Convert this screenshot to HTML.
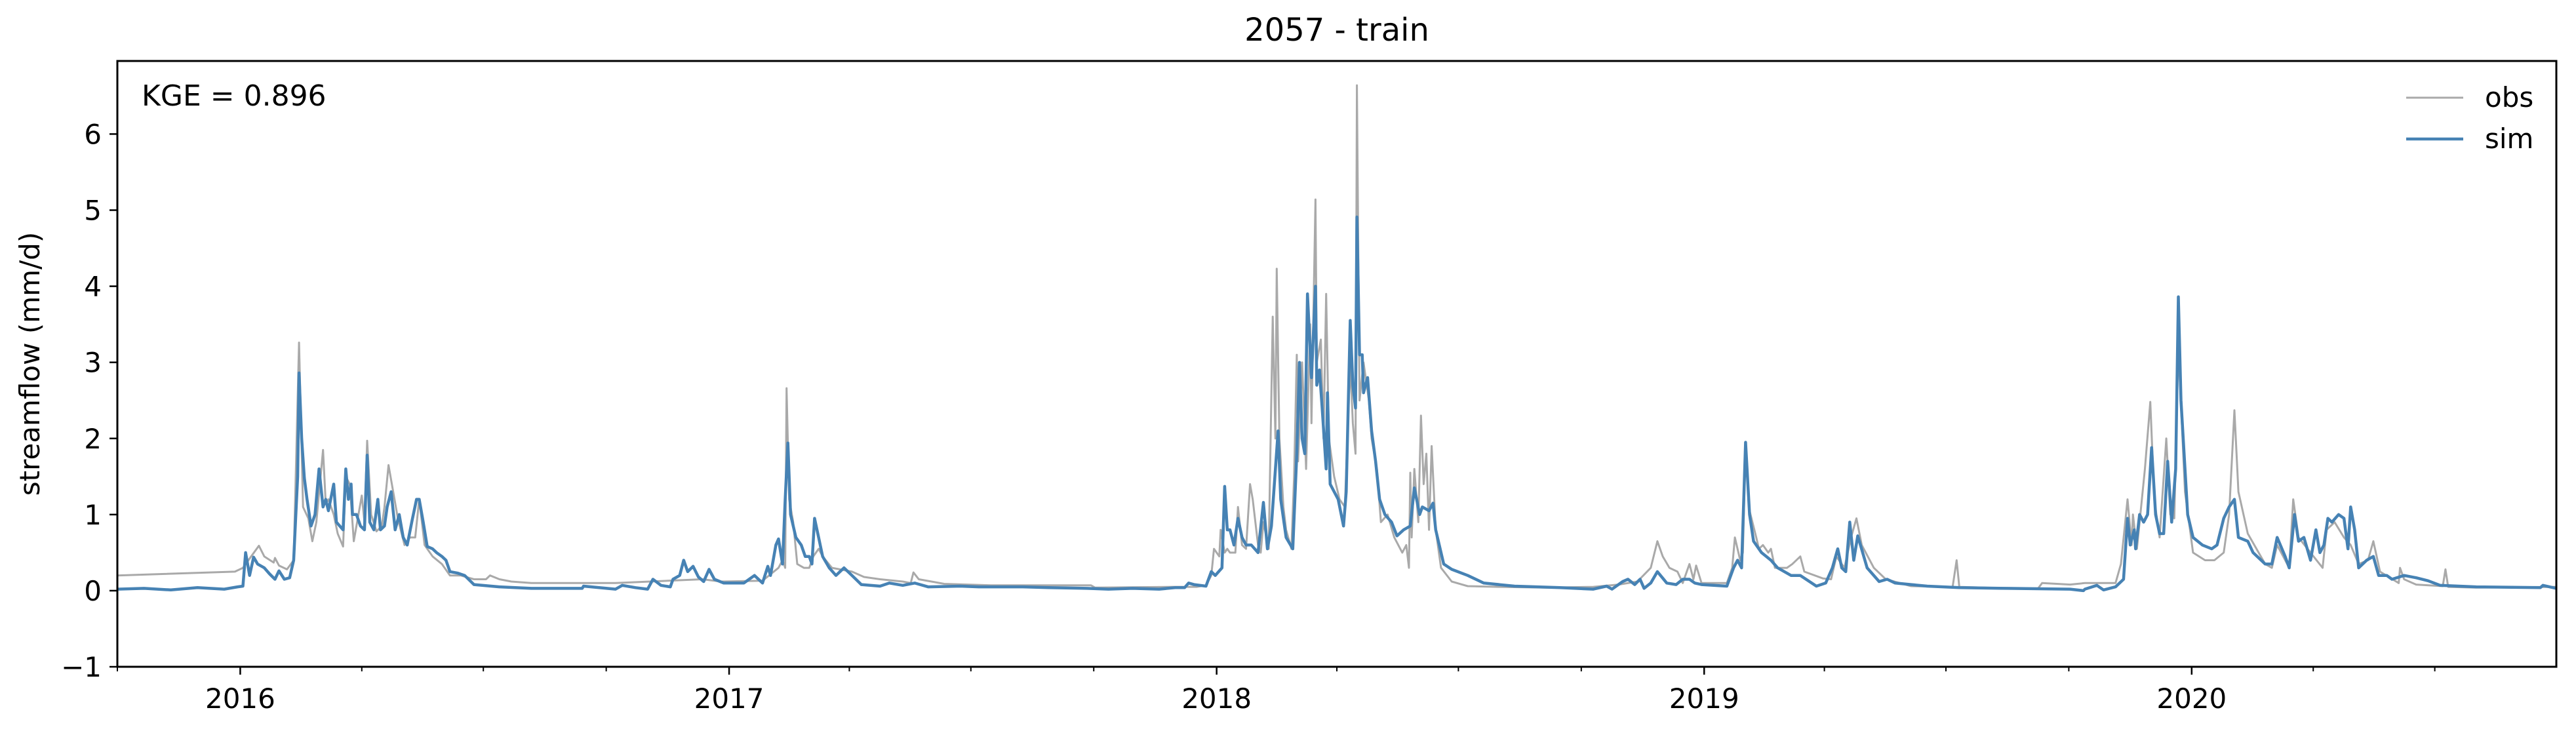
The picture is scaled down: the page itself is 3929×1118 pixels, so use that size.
<!DOCTYPE html>
<html><head><meta charset="utf-8"><style>
html,body{margin:0;padding:0;background:#fff;}
svg{display:block;font-family:"DejaVu Sans","Liberation Sans",sans-serif;}
</style></head><body>
<svg id="chart" width="3929" height="1118" viewBox="0 0 3929 1118" xmlns="http://www.w3.org/2000/svg">
<rect x="0" y="0" width="3929" height="1118" fill="#fff"/>
<text x="2039" y="62" font-size="48" text-anchor="middle">2057 - train</text>
<text x="0" y="0" font-size="42" text-anchor="middle" transform="translate(60,555) rotate(-90)">streamflow (mm/d)</text>
<g id="plot"></g>
<g id="axes"></g>
<text x="216" y="161" font-size="44">KGE = 0.896</text>
<g>
<line x1="3670" y1="149" x2="3757" y2="149" stroke="#a9a9a9" stroke-width="3"/>
<text x="3790" y="163" font-size="42">obs</text>
<line x1="3670" y1="212" x2="3757" y2="212" stroke="#4682b4" stroke-width="4.5"/>
<text x="3790" y="226" font-size="42">sim</text>
</g>
</svg>
<script>
// day index from 2015-10-01
const obsDays=[0,88,94,106,110,117,118,121,127,132,136,139,143,146,149,154,156,158,162,165,169,171,174,177,180,183,185,187,190,194,198,200,203,206,210,215,219,223,226,230,236,243,249,257,267,276,279,286,295,310,333,373,
438,452,483,495,498,500,501,503,506,509,514,518,521,525,528,535,550,559,571,588,594,596,600,619,654,702,729,732,
792,808,815,819,821,825,826,829,831,833,837,839,842,845,848,850,854,856,858,862,865,867,868,870,873,875,879,881,883,884,887,890,893,894,897,898,901,903,905,907,911,915,919,923,925,927,928,930,933,937,939,943,946,951,956,962,965,967,968,969,971,974,976,978,980,982,984,987,991,999,1011,1034,1070,
1105,1124,1138,1148,1153,1157,1162,1168,1172,1177,1180,1182,1186,1205,1209,1211,1215,1217,1219,1222,1227,1229,1232,1236,1238,1241,1250,1254,1260,1263,1277,1283,1287,1293,1298,1302,1306,1315,1324,1343,1374,1377,1379,1415,1438,1441,1462,
1473,1496,1500,1505,1508,1509,1512,1518,1522,1525,1529,1534,1537,1540,1543,1548,1554,1563,1570,1577,1581,1585,1588,1595,1608,1613,1617,1626,1629,1633,1642,1651,1654,1660,1667,1672,1678,1685,1689,1694,1708,1709,1712,1721,1741,1743,1745,1766,1826];
const obsVals=[0.2,0.25,0.3,0.59,0.45,0.37,0.43,0.33,0.28,0.4,3.26,1.1,0.95,0.65,0.9,1.85,1.15,1.2,1.0,0.75,0.58,1.5,1.4,0.65,0.95,1.25,0.9,1.97,1.0,0.78,0.85,1.1,1.65,1.35,0.95,0.6,0.7,0.7,1.2,0.6,0.45,0.35,0.2,0.2,0.15,0.15,0.2,0.15,0.12,0.1,0.1,0.1,
0.15,0.12,0.13,0.3,0.4,0.3,2.66,1.2,0.9,0.35,0.3,0.3,0.45,0.55,0.45,0.3,0.25,0.18,0.15,0.12,0.1,0.24,0.15,0.09,0.07,0.07,0.07,0.04,
0.05,0.05,0.07,0.2,0.55,0.45,0.8,0.5,0.55,0.5,0.5,1.1,0.6,0.55,1.4,1.2,0.6,0.5,0.9,0.55,3.6,2.0,4.23,2.0,1.1,0.8,0.55,1.5,3.1,1.7,3.0,1.6,3.5,2.2,5.14,3.0,3.3,2.0,3.9,2.0,1.5,1.2,1.1,3.0,2.2,1.8,6.64,2.5,3.0,2.5,2.0,1.6,0.9,1.0,0.7,0.5,0.6,0.3,1.55,0.7,1.6,0.9,2.3,1.4,1.8,0.8,1.9,0.8,0.3,0.12,0.06,0.05,0.04,
0.05,0.08,0.12,0.3,0.65,0.45,0.3,0.25,0.1,0.35,0.15,0.33,0.1,0.1,0.3,0.7,0.4,0.5,1.9,1.05,0.7,0.55,0.6,0.5,0.55,0.3,0.3,0.35,0.45,0.25,0.16,0.15,0.45,0.3,0.7,0.95,0.6,0.3,0.15,0.06,0.05,0.4,0.05,0.03,0.03,0.1,0.08,
0.1,0.1,0.35,1.2,0.6,1.0,0.55,1.6,2.48,1.2,0.7,2.0,1.0,0.95,3.2,1.3,0.5,0.4,0.4,0.5,1.0,2.37,1.3,0.75,0.35,0.3,0.6,0.3,1.2,0.7,0.5,0.3,0.8,0.9,0.7,0.6,0.35,0.4,0.65,0.25,0.1,0.3,0.15,0.08,0.06,0.28,0.05,0.04,0.05];
const simDays=[0,20,40,60,80,90,94,96,99,102,105,110,114,118,121,125,129,132,135,136,138,140,142,145,148,151,154,156,158,162,164,169,171,173,175,176,179,182,185,187,189,192,195,197,200,202,205,208,211,214,217,221,224,226,229,232,236,239,243,246,249,255,260,267,286,310,348,349,373,
378,388,397,401,407,414,416,421,424,427,431,435,439,443,447,454,469,477,483,487,489,493,495,498,500,502,504,508,512,515,518,520,522,525,528,533,538,544,550,557,571,578,588,597,607,631,645,678,697,726,742,
760,780,792,799,802,806,815,819,822,827,829,831,833,836,839,842,845,849,854,858,861,864,869,871,875,880,883,885,887,889,891,894,897,898,900,902,905,906,908,911,914,918,920,923,925,927,928,930,932,933,936,939,942,945,949,954,958,963,968,971,975,977,982,985,987,993,999,1011,1023,1046,1080,
1105,1115,1119,1127,1131,1136,1140,1143,1148,1153,1160,1167,1172,1177,1181,1186,1205,1210,1213,1216,1219,1222,1225,1231,1238,1243,1253,1260,1272,1279,1284,1288,1291,1294,1297,1300,1303,1310,1319,1325,1331,1355,1379,1415,1462,1472,
1473,1482,1487,1496,1502,1505,1507,1510,1511,1514,1517,1520,1523,1526,1529,1532,1535,1538,1541,1543,1545,1550,1554,1561,1568,1572,1577,1581,1585,1588,1595,1599,1608,1613,1617,1623,1626,1630,1633,1637,1642,1646,1649,1652,1655,1658,1663,1667,1670,1672,1675,1678,1684,1689,1693,1699,1703,1712,1721,1730,1739,1766,1814,1816,1826];
const simVals=[0.02,0.03,0.01,0.04,0.02,0.05,0.06,0.5,0.2,0.44,0.35,0.3,0.22,0.15,0.26,0.15,0.17,0.4,1.5,2.86,2.0,1.48,1.2,0.85,1.0,1.6,1.1,1.2,1.05,1.4,0.9,0.8,1.6,1.2,1.4,1.0,1.0,0.85,0.8,1.78,0.9,0.8,1.2,0.8,0.85,1.1,1.3,0.8,1.0,0.7,0.6,0.95,1.2,1.2,0.9,0.58,0.55,0.5,0.45,0.4,0.25,0.23,0.2,0.08,0.05,0.03,0.03,0.06,0.02,
0.07,0.04,0.02,0.15,0.07,0.05,0.15,0.2,0.4,0.25,0.32,0.18,0.12,0.28,0.15,0.1,0.1,0.2,0.1,0.32,0.2,0.6,0.68,0.35,1.2,1.94,1.0,0.7,0.6,0.45,0.45,0.35,0.95,0.7,0.45,0.3,0.2,0.3,0.2,0.08,0.06,0.1,0.07,0.1,0.05,0.06,0.05,0.05,0.04,0.03,0.02,
0.03,0.02,0.04,0.04,0.1,0.08,0.06,0.25,0.2,0.3,1.37,0.8,0.8,0.6,0.95,0.7,0.6,0.6,0.5,1.16,0.55,0.85,2.1,1.2,0.7,0.55,1.8,3.0,2.0,1.8,3.9,2.8,4.0,2.7,2.9,2.4,1.6,2.6,1.4,1.3,1.2,0.85,1.3,3.55,2.7,2.4,4.91,3.1,3.1,2.6,2.8,2.1,1.7,1.2,1.0,0.9,0.72,0.8,0.85,1.35,1.0,1.1,1.05,1.15,0.8,0.35,0.28,0.2,0.1,0.06,0.04,
0.02,0.06,0.02,0.12,0.15,0.08,0.15,0.03,0.1,0.25,0.1,0.08,0.15,0.15,0.1,0.08,0.06,0.3,0.4,0.3,1.95,1.0,0.65,0.5,0.4,0.3,0.2,0.2,0.06,0.1,0.3,0.55,0.3,0.25,0.9,0.4,0.72,0.3,0.12,0.15,0.1,0.06,0.04,0.03,0.02,0.0,
0.02,0.07,0.01,0.05,0.15,0.95,0.6,0.8,0.55,1.0,0.9,1.0,1.88,1.0,0.75,0.75,1.7,0.9,1.6,3.86,2.5,1.0,0.7,0.6,0.55,0.6,0.95,1.1,1.2,0.7,0.65,0.5,0.35,0.35,0.7,0.45,0.3,1.0,0.65,0.7,0.4,0.8,0.5,0.6,0.95,0.9,1.0,0.95,0.55,1.1,0.8,0.3,0.4,0.45,0.2,0.2,0.15,0.2,0.17,0.13,0.07,0.05,0.04,0.07,0.03];
const yTicks=[-1,0,1,2,3,4,5,6];
const yearTicks=[2016,2017,2018,2019,2020];

const X0=179,X1=3899,Y0=93,Y1=1017,DMAX=1826,YMIN=-1,YMAX=6.96;
const start=Date.UTC(2015,9,1);
function xs(d){return X0+(d/DMAX)*(X1-X0);}
function ys(v){return Y1-(v-YMIN)/(YMAX-YMIN)*(Y1-Y0);}
function dayOf(y,m){return Math.round((Date.UTC(y,m,1)-start)/86400000);}
const NS="http://www.w3.org/2000/svg";
const plot=document.getElementById('plot'),axes=document.getElementById('axes');
function series(days,vals){
  const pts=days.map((d,i)=>[d,vals[i]]).sort((a,b)=>a[0]-b[0]);
  return pts.map((p,i)=>(i?'L':'M')+xs(p[0]).toFixed(1)+','+ys(p[1]).toFixed(1)).join(' ');
}
const po=document.createElementNS(NS,'path');


po.setAttribute('d',series(obsDays,obsVals));po.setAttribute('fill','none');po.setAttribute('stroke','#a9a9a9');po.setAttribute('stroke-width','3');po.setAttribute('stroke-linejoin','round');
plot.appendChild(po);
const ps=document.createElementNS(NS,'path');


ps.setAttribute('d',series(simDays,simVals));ps.setAttribute('fill','none');ps.setAttribute('stroke','#4682b4');ps.setAttribute('stroke-width','4.5');ps.setAttribute('stroke-linejoin','round');
plot.appendChild(ps);

const frame=document.createElementNS(NS,'rect');


frame.setAttribute('x',X0);frame.setAttribute('y',Y0);frame.setAttribute('width',X1-X0);frame.setAttribute('height',Y1-Y0);
frame.setAttribute('fill','none');frame.setAttribute('stroke','#000');frame.setAttribute('stroke-width','3');
axes.appendChild(frame);

yTicks.forEach(v=>{
  const y=ys(v);
  const t=document.createElementNS(NS,'line');
  
  
  t.setAttribute('x1',X0-12);t.setAttribute('x2',X0);t.setAttribute('y1',y);t.setAttribute('y2',y);t.setAttribute('stroke','#000');t.setAttribute('stroke-width','2.5');
  axes.appendChild(t);
  const l=document.createElementNS(NS,'text');
  
  
  l.setAttribute('x',X0-24);l.setAttribute('y',y+15);l.setAttribute('font-size','42');l.setAttribute('text-anchor','end');
  l.textContent=v<0?'\u2212'+Math.abs(v):String(v);
  axes.appendChild(l);
});
for(let yr=2015;yr<=2020;yr++){
  [0,3,6,9].forEach(m=>{
    const d=dayOf(yr,m);
    if(d<0||d>DMAX)return;
    const major=(m===0);
    const t=document.createElementNS(NS,'line');
    
    
    t.setAttribute('x1',xs(d));t.setAttribute('x2',xs(d));t.setAttribute('y1',Y1);t.setAttribute('y2',Y1+(major?12:7));t.setAttribute('stroke','#000');t.setAttribute('stroke-width',major?'2.5':'2');
    axes.appendChild(t);
  });
}
yearTicks.forEach(yr=>{
  const l=document.createElementNS(NS,'text');
  
  
  l.setAttribute('x',xs(dayOf(yr,0)));l.setAttribute('y',1080);l.setAttribute('font-size','42');l.setAttribute('text-anchor','middle');
  l.textContent=String(yr);
  axes.appendChild(l);
});
</script>
</body></html>
